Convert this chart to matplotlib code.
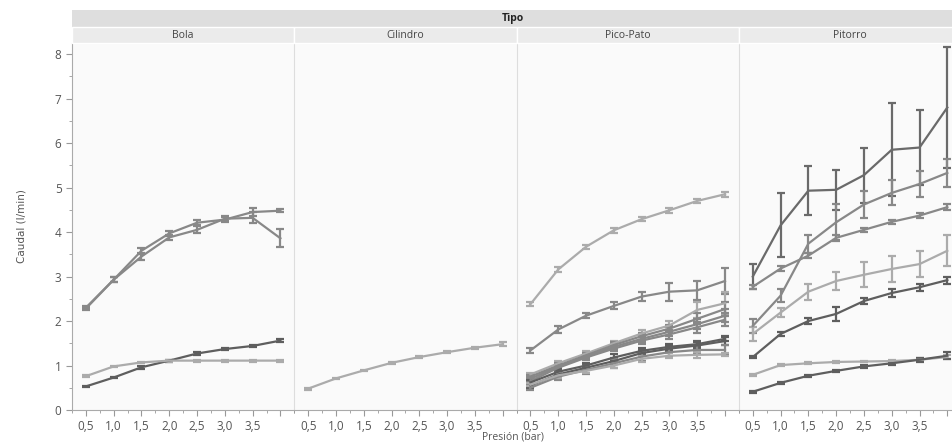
import matplotlib
matplotlib.use("Agg")
import matplotlib.pyplot as plt
from matplotlib.patches import Rectangle
from matplotlib.ticker import FixedLocator, MultipleLocator

plt.rcParams['font.family'] = ['Open Sans', 'DejaVu Sans']

presion = [0.5, 1.0, 1.5, 2.0, 2.5, 3.0, 3.5, 4.0]
tipos = ["Bola", "Cilindro", "Pico-Pato", "Pitorro"]
xtick_labels = ["0,5", "1,0", "1,5", "2,0", "2,5", "3,0", "3,5", ""]

DARK, MID, LIGHT, DARKER = "#5e5e5e", "#888888", "#ababab", "#6a6a6a"

# Bola
bola_1 = [2.30, 2.93, 3.58, 3.97, 4.21, 4.28, 4.45, 4.48]
bola_1_err = [0.04, 0.05, 0.07, 0.06, 0.06, 0.05, 0.08, 0.03]
bola_2 = [2.28, 2.93, 3.45, 3.88, 4.05, 4.30, 4.32, 3.86]
bola_2_err = [0.03, 0.05, 0.08, 0.05, 0.08, 0.06, 0.12, 0.20]
bola_3 = [0.53, 0.73, 0.96, 1.11, 1.27, 1.37, 1.44, 1.56]
bola_3_err = [0.02, 0.02, 0.03, 0.02, 0.03, 0.02, 0.03, 0.04]
bola_4 = [0.76, 0.98, 1.07, 1.11, 1.11, 1.11, 1.11, 1.11]
bola_4_err = [0.02, 0.02, 0.02, 0.02, 0.02, 0.02, 0.02, 0.02]

# Cilindro
cil_1 = [0.48, 0.71, 0.89, 1.06, 1.19, 1.30, 1.40, 1.48]
cil_1_err = [0.02, 0.02, 0.02, 0.02, 0.02, 0.02, 0.02, 0.04]

# Pico-Pato
pp_1 = [2.38, 3.16, 3.67, 4.04, 4.29, 4.49, 4.70, 4.85]
pp_1_err = [0.04, 0.05, 0.05, 0.06, 0.05, 0.06, 0.05, 0.06]
pp_2 = [1.34, 1.81, 2.12, 2.34, 2.55, 2.66, 2.69, 2.90]
pp_2_err = [0.05, 0.08, 0.06, 0.08, 0.10, 0.20, 0.22, 0.30]
pp_3 = [0.80, 1.05, 1.27, 1.50, 1.72, 1.90, 2.25, 2.40]
pp_3_err = [0.04, 0.05, 0.05, 0.06, 0.08, 0.10, 0.18, 0.25]
pp_4 = [0.75, 1.00, 1.23, 1.46, 1.66, 1.83, 2.05, 2.27]
pp_4_err = [0.04, 0.05, 0.05, 0.06, 0.08, 0.08, 0.12, 0.15]
pp_5 = [0.70, 0.98, 1.20, 1.42, 1.60, 1.76, 1.93, 2.12]
pp_5_err = [0.04, 0.05, 0.05, 0.06, 0.08, 0.10, 0.12, 0.15]
pp_6 = [0.65, 0.95, 1.18, 1.38, 1.56, 1.70, 1.86, 2.03]
pp_6_err = [0.04, 0.05, 0.05, 0.06, 0.08, 0.10, 0.12, 0.15]
pp_7 = [0.62, 0.86, 1.00, 1.18, 1.33, 1.42, 1.48, 1.60]
pp_7_err = [0.05, 0.06, 0.05, 0.08, 0.06, 0.06, 0.06, 0.06]
pp_8 = [0.55, 0.80, 0.95, 1.10, 1.28, 1.38, 1.45, 1.55]
pp_8_err = [0.05, 0.08, 0.06, 0.06, 0.06, 0.06, 0.08, 0.08]
pp_9 = [0.50, 0.75, 0.90, 1.05, 1.20, 1.30, 1.35, 1.35]
pp_9_err = [0.06, 0.08, 0.08, 0.10, 0.10, 0.10, 0.10, 0.12]
pp_10 = [0.57, 0.78, 0.88, 1.00, 1.15, 1.22, 1.24, 1.25]
pp_10_err = [0.04, 0.05, 0.05, 0.06, 0.06, 0.06, 0.06, 0.04]

# Pitorro
pit_1 = [3.00, 4.15, 4.93, 4.95, 5.28, 5.85, 5.90, 6.80]
pit_1_err = [0.28, 0.72, 0.55, 0.45, 0.62, 1.05, 0.85, 1.35]
pit_2 = [2.77, 3.18, 3.47, 3.87, 4.05, 4.23, 4.37, 4.56]
pit_2_err = [0.05, 0.05, 0.06, 0.06, 0.05, 0.05, 0.05, 0.06]
pit_3 = [1.89, 2.57, 3.74, 4.22, 4.62, 4.88, 5.08, 5.33]
pit_3_err = [0.15, 0.15, 0.20, 0.40, 0.30, 0.28, 0.30, 0.32]
pit_4 = [1.71, 2.19, 2.66, 2.90, 3.04, 3.17, 3.28, 3.58]
pit_4_err = [0.15, 0.10, 0.18, 0.20, 0.28, 0.30, 0.30, 0.35]
pit_5 = [1.19, 1.71, 2.00, 2.16, 2.45, 2.63, 2.76, 2.92]
pit_5_err = [0.02, 0.05, 0.06, 0.15, 0.06, 0.08, 0.08, 0.08]
pit_6 = [0.79, 1.01, 1.05, 1.08, 1.09, 1.10, 1.13, 1.19]
pit_6_err = [0.02, 0.02, 0.02, 0.02, 0.02, 0.02, 0.03, 0.04]
pit_7 = [0.41, 0.61, 0.77, 0.88, 0.98, 1.05, 1.13, 1.22]
pit_7_err = [0.02, 0.02, 0.02, 0.03, 0.04, 0.04, 0.05, 0.08]

panels = {
    "Bola": [(bola_1, bola_1_err, MID), (bola_2, bola_2_err, MID),
             (bola_3, bola_3_err, DARK), (bola_4, bola_4_err, LIGHT)],
    "Cilindro": [(cil_1, cil_1_err, LIGHT)],
    "Pico-Pato": [(pp_1, pp_1_err, LIGHT), (pp_2, pp_2_err, MID),
                  (pp_3, pp_3_err, LIGHT), (pp_4, pp_4_err, MID),
                  (pp_5, pp_5_err, MID), (pp_6, pp_6_err, MID),
                  (pp_7, pp_7_err, DARK), (pp_8, pp_8_err, DARK),
                  (pp_9, pp_9_err, MID), (pp_10, pp_10_err, LIGHT)],
    "Pitorro": [(pit_1, pit_1_err, DARKER), (pit_2, pit_2_err, MID),
                (pit_3, pit_3_err, MID), (pit_4, pit_4_err, LIGHT),
                (pit_5, pit_5_err, DARK), (pit_6, pit_6_err, LIGHT),
                (pit_7, pit_7_err, DARK)],
}

W, H = 953, 444
fig = plt.figure(figsize=(W / 100, H / 100), dpi=100)
fig.patch.set_facecolor("white")

left0, pw = 72, 222.3
top_px, bot_px = 43, 410
TEXT = "#555555"

def fx(px):
    return px / W

def fy(py):
    return 1 - py / H

# header strips
fig.patches.append(Rectangle((fx(left0), fy(27)), fx(W - left0 + 20), 17 / H,
                             transform=fig.transFigure, facecolor="#dedede",
                             edgecolor="none", zorder=0))
fig.text(fx((left0 + W) / 2), fy(18.5), "Tipo", ha="center", va="center",
         fontsize=7.5, fontweight="bold", color="#222222")

for i, tipo in enumerate(tipos):
    x0 = left0 + i * pw
    ax = fig.add_axes([fx(x0), fy(bot_px), pw / W, (bot_px - top_px) / H])
    ax.set_facecolor("#fafafa")
    fig.patches.append(Rectangle((fx(x0), fy(43)), pw / W, 16 / H,
                                 transform=fig.transFigure, facecolor="#ebebeb",
                                 edgecolor="#ffffff", linewidth=1.0, zorder=0))
    fig.text(fx(x0 + pw / 2), fy(35), tipo, ha="center", va="center",
             fontsize=7.5, color="#444444")
    for y, e, c in panels[tipo]:
        ax.errorbar(presion, y, yerr=e, color=c, linewidth=1.6, elinewidth=1.6,
                    capsize=3.2, capthick=1.6)
    ax.set_xlim(0.25, 4.25)
    ax.set_ylim(0, 8.25)
    ax.xaxis.set_major_locator(FixedLocator(presion))
    ax.xaxis.set_minor_locator(MultipleLocator(0.25))
    ax.set_xticklabels(xtick_labels)
    ax.tick_params(axis="x", which="major", length=4, color="#999999",
                   labelsize=8.5, labelcolor=TEXT, pad=3)
    ax.tick_params(axis="x", which="minor", length=2.5, color="#999999")
    for s in ["top", "right"]:
        ax.spines[s].set_visible(False)
    ax.spines["bottom"].set_color("#aaaaaa")
    if i == 0:
        ax.spines["left"].set_color("#aaaaaa")
        ax.yaxis.set_major_locator(MultipleLocator(1))
        ax.yaxis.set_minor_locator(MultipleLocator(0.5))
        ax.tick_params(axis="y", which="major", length=4, color="#999999",
                       labelsize=8.5, labelcolor=TEXT)
        ax.tick_params(axis="y", which="minor", length=2.5, color="#999999")
        ax.set_ylabel("Caudal (l/min)", fontsize=7.5, color=TEXT, labelpad=20,
                      family=["Liberation Sans Narrow", "DejaVu Sans"])
    else:
        ax.spines["left"].set_color("#dddddd")
        ax.tick_params(axis="y", which="both", left=False, labelleft=False)

fig.text(fx((left0 + W) / 2), fy(437), "Presión (bar)", ha="center", va="center",
         fontsize=7.5, color=TEXT)

fig.savefig("out.png", dpi=100)
